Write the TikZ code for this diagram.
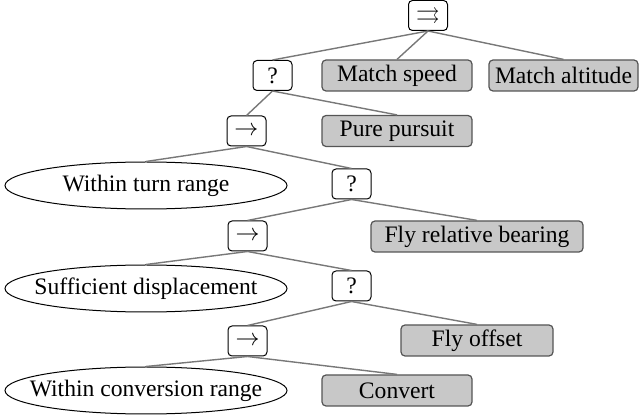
\documentclass[tikz,border=0pt]{standalone}
\usepackage{amssymb}
\usepackage{fontspec}
\setmainfont{Liberation Serif}
\usetikzlibrary{shapes.geometric}
\definecolor{actfill}{RGB}{200,200,200}
\definecolor{actdraw}{RGB}{85,85,85}
\definecolor{linkcol}{RGB}{120,120,120}
\newcommand{\zerow}[1]{\makebox[0pt][c]{#1}}
\begin{document}
\begin{tikzpicture}[x=0.5pt,y=-0.5pt,
  every node/.style={font=\fontsize{11.8}{14}\selectfont, inner sep=0pt},
  ctrl/.style={draw=black, line width=0.5pt, rounded corners=2pt, minimum width=19.5pt, minimum height=15pt, fill=white},
  act/.style={draw=actdraw, fill=actfill, line width=0.6pt, rounded corners=2pt, minimum width=75pt, minimum height=15.5pt},
  cond/.style={ellipse, draw=black, line width=0.5pt, minimum width=141pt, minimum height=23.5pt},
  link/.style={draw=linkcol, line width=0.7pt}]
\useasboundingbox (0,0) rectangle (639,417);
\node[ctrl] (root) at (428,15.5) {$\rightrightarrows$};
\node[ctrl] (sel1) at (272.5,75.5) {?};
\node[act] (ms) at (397,75.5) {Match speed};
\node[act, minimum width=74.5pt] (ma) at (563.5,75.5) {Match altitude};
\node[ctrl] (seq1) at (246.5,131) {$\rightarrow$};
\node[act] (pp) at (397,131) {Pure pursuit};
\node[cond] (wtr) at (146,185.5) {\zerow{Within turn range}};
\node[ctrl] (sel2) at (351.5,184) {?};
\node[ctrl] (seq2) at (247.5,236) {$\rightarrow$};
\node[act, minimum width=106pt] (frb) at (477,236.5) {Fly relative bearing};
\node[cond] (sd) at (146,288.5) {\zerow{Sufficient displacement}};
\node[ctrl] (sel3) at (351.5,286) {?};
\node[ctrl] (seq3) at (247.5,341) {$\rightarrow$};
\node[act, minimum width=76pt] (fo) at (477,340.5) {Fly offset};
\node[cond] (wcr) at (146,390.5) {\zerow{Within conversion range}};
\node[act] (conv) at (397,390.5) {Convert};
\draw[link] (root.south) -- (sel1.north);
\draw[link] (root.south) -- (ms.north);
\draw[link] (root.south) -- (ma.north);
\draw[link] (sel1.south) -- (seq1.north);
\draw[link] (sel1.south) -- (pp.north);
\draw[link] (seq1.south) -- (wtr.north);
\draw[link] (seq1.south) -- (sel2.north);
\draw[link] (sel2.south) -- (seq2.north);
\draw[link] (sel2.south) -- (frb.north);
\draw[link] (seq2.south) -- (sd.north);
\draw[link] (seq2.south) -- (sel3.north);
\draw[link] (sel3.south) -- (seq3.north);
\draw[link] (sel3.south) -- (fo.north);
\draw[link] (seq3.south) -- (wcr.north);
\draw[link] (seq3.south) -- (conv.north);
\end{tikzpicture}
\end{document}
